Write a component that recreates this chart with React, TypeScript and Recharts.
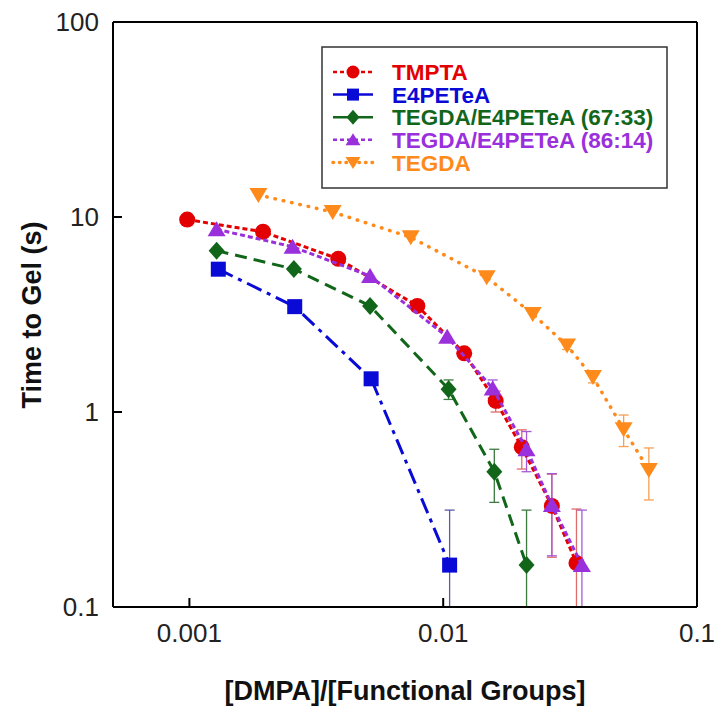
import { ScatterChart, Scatter, XAxis, YAxis, ErrorBar, Label } from 'recharts';

// Gel time vs photoinitiator ratio
const TMPTA_X = [0.00098, 0.00195, 0.00386, 0.00791, 0.0121, 0.0161, 0.0204, 0.0268, 0.0335];
const TMPTA_Y = [9.7, 8.4, 6.1, 3.5, 2.0, 1.14, 0.66, 0.33, 0.168];
const TMPTA_ERR = [0, 0, 0, 0, 0, 0.14, 0.15, 0.15, 0.15];

const E4PETEA_X = [0.0013, 0.0026, 0.0052, 0.0106];
const E4PETEA_Y = [5.4, 3.47, 1.48, 0.164];
const E4PETEA_ERR = [0, 0, 0.08, 0.15];

const MIX67_X = [0.00128, 0.00258, 0.00515, 0.0105, 0.0159, 0.0213];
const MIX67_Y = [6.72, 5.41, 3.5, 1.31, 0.494, 0.164];
const MIX67_ERR = [0, 0, 0.1, 0.15, 0.15, 0.15];

const MIX86_X = [0.00128, 0.00255, 0.00515, 0.01037, 0.01567, 0.0213, 0.0268, 0.0352];
const MIX86_Y = [8.65, 7.04, 4.98, 2.43, 1.32, 0.644, 0.333, 0.164];
const MIX86_ERR = [0, 0, 0, 0, 0.14, 0.15, 0.15, 0.15];

const TEGDA_X = [0.00187, 0.00367, 0.00745, 0.01484, 0.02253, 0.03077, 0.0389, 0.0514, 0.0646];
const TEGDA_Y = [12.97, 10.6, 7.87, 4.91, 3.18, 2.19, 1.51, 0.815, 0.504];
const TEGDA_ERR = [0, 0, 0, 0, 0, 0.1, 0.1, 0.15, 0.15];

const X_DOMAIN = [0.0005, 0.1];
const Y_DOMAIN = [0.1, 100];
const X_TICKS = [0.001, 0.01, 0.1];
const Y_TICKS = [0.1, 1, 10, 100];

const FONT = '"Liberation Sans", Arial, Helvetica, sans-serif';

// chart frame (page px); the error bars get clipped to it
const MARGIN = { top: 22, right: 20, bottom: 51, left: 33 };
const Y_AXIS_W = 80;
const X_AXIS_H = 50;
const PLOT = {
  x: MARGIN.left + Y_AXIS_W,
  y: MARGIN.top,
  w: 717 - MARGIN.left - Y_AXIS_W - MARGIN.right,
  h: 708 - MARGIN.top - MARGIN.bottom - X_AXIS_H,
};

type Point = { x: number; y: number; err: number };
type MarkerKind = 'circle' | 'square' | 'diamond' | 'up' | 'down';

function toPoints(xs: number[], ys: number[], errs: number[]): Point[] {
  return xs.map((x, i) => ({ x, y: ys[i], err: errs[i] }));
}

type SeriesDef = {
  name: string;
  color: string;
  errColor: string;
  marker: MarkerKind;
  dash: string;
  legendDash: string;
  lineWidth: number;
  cap?: 'round' | 'butt';
  data: Point[];
};

// drawing order: back to front
const SERIES: SeriesDef[] = [
  {
    name: 'TEGDA',
    color: '#ff8a1c',
    errColor: '#f5a050',
    marker: 'down',
    dash: '0.5 8',
    legendDash: '0.5 6',
    lineWidth: 3.5,
    cap: 'round',
    data: toPoints(TEGDA_X, TEGDA_Y, TEGDA_ERR),
  },
  {
    name: 'E4PETeA',
    color: '#0a0ad6',
    errColor: '#5a5aae',
    marker: 'square',
    dash: '16 6 4 6',
    legendDash: '',
    lineWidth: 3,
    data: toPoints(E4PETEA_X, E4PETEA_Y, E4PETEA_ERR),
  },
  {
    name: 'TEGDA/E4PETeA (67:33)',
    color: '#11661a',
    errColor: '#3c7a40',
    marker: 'diamond',
    dash: '12 7',
    legendDash: '',
    lineWidth: 3,
    data: toPoints(MIX67_X, MIX67_Y, MIX67_ERR),
  },
  {
    name: 'TMPTA',
    color: '#e30000',
    errColor: '#e06a6a',
    marker: 'circle',
    dash: '5 3',
    legendDash: '4 3',
    lineWidth: 3,
    data: toPoints(TMPTA_X, TMPTA_Y, TMPTA_ERR),
  },
  {
    name: 'TEGDA/E4PETeA (86:14)',
    color: '#9a2fdc',
    errColor: '#a45ad6',
    marker: 'up',
    dash: '5 3',
    legendDash: '4 3',
    lineWidth: 3,
    data: toPoints(MIX86_X, MIX86_Y, MIX86_ERR),
  },
];

const LEGEND_ORDER = [
  'TMPTA',
  'E4PETeA',
  'TEGDA/E4PETeA (67:33)',
  'TEGDA/E4PETeA (86:14)',
  'TEGDA',
];

function MarkerShape({ cx, cy, kind, color, size }: { cx?: number; cy?: number; kind: MarkerKind; color: string; size: number }) {
  if (cx == null || cy == null) return null;
  const h = size / 2;
  switch (kind) {
    case 'circle':
      return <circle cx={cx} cy={cy} r={h} fill={color} />;
    case 'square':
      return <rect x={cx - h + 0.5} y={cy - h + 0.5} width={size - 1} height={size - 1} fill={color} />;
    case 'diamond':
      return <polygon points={`${cx},${cy - h - 1} ${cx + h},${cy} ${cx},${cy + h + 1} ${cx - h},${cy}`} fill={color} />;
    case 'up':
      return <polygon points={`${cx},${cy - h} ${cx + h + 1},${cy + h - 1} ${cx - h - 1},${cy + h - 1}`} fill={color} />;
    case 'down':
      return <polygon points={`${cx - h - 1},${cy - h + 1} ${cx + h + 1},${cy - h + 1} ${cx},${cy + h}`} fill={color} />;
  }
  return null;
}

const X_TICK_GAP = 16;
const Y_TICK_GAP = 14;

function BottomTick(props: any) {
  const { x, y, payload } = props;
  const v = payload.value as number;
  const axisY = y - X_TICK_GAP;
  const inner = v > X_DOMAIN[0] && v < X_DOMAIN[1];
  return (
    <g>
      {inner && <line x1={x} x2={x} y1={axisY} y2={axisY - 9} stroke="#000" strokeWidth={2} />}
      <text x={x} y={y} dy="0.72em" textAnchor="middle" fontSize={26} fontFamily={FONT} fill="#222">
        {String(v)}
      </text>
    </g>
  );
}

function LeftTick(props: any) {
  const { x, y, payload } = props;
  const v = payload.value as number;
  const axisX = x + Y_TICK_GAP;
  const inner = v > Y_DOMAIN[0] && v < Y_DOMAIN[1];
  return (
    <g>
      {inner && <line x1={axisX} x2={axisX + 9} y1={y} y2={y} stroke="#000" strokeWidth={2} />}
      <text x={x} y={y} dy="0.36em" textAnchor="end" fontSize={26} fontFamily={FONT} fill="#222">
        {String(v)}
      </text>
    </g>
  );
}

function LegendBox() {
  const rows = LEGEND_ORDER.map((n) => SERIES.find((s) => s.name === n)!);
  return (
    <svg
      width={348}
      height={144}
      style={{ position: 'absolute', left: 321, top: 46 }}
    >
      <rect x={1} y={1} width={345} height={141} fill="#fff" stroke="#333" strokeWidth={1.5} />
      {rows.map((s, i) => {
        const cy = 26 + i * 22.6;
        return (
          <g key={s.name}>
            <line
              x1={12}
              x2={52}
              y1={cy}
              y2={cy}
              stroke={s.color}
              strokeWidth={s.cap === 'round' ? 3.5 : 2.5}
              strokeDasharray={s.legendDash || undefined}
              strokeLinecap={s.cap ?? 'butt'}
            />
            <MarkerShape cx={32} cy={cy} kind={s.marker} color={s.color} size={13} />
            <text x={71} y={cy} dy="0.36em" fontSize={22.5} fontWeight="bold" fontFamily={FONT} fill={s.color}>
              {s.name}
            </text>
          </g>
        );
      })}
    </svg>
  );
}

export default function App() {
  return (
    <div style={{ position: 'absolute', left: 0, top: 0, width: 717, height: 708, background: '#fff' }}>
      <svg width={0} height={0} style={{ position: 'absolute' }}>
        <defs>
          <clipPath id="plot-clip">
            <rect x={PLOT.x} y={PLOT.y} width={PLOT.w} height={PLOT.h} />
          </clipPath>
        </defs>
      </svg>
      <ScatterChart width={717} height={708} margin={MARGIN}>
        <XAxis
          xAxisId="main"
          dataKey="x"
          type="number"
          scale="log"
          domain={X_DOMAIN}
          allowDataOverflow
          ticks={X_TICKS}
          height={X_AXIS_H}
          tickSize={0}
          tickMargin={X_TICK_GAP}
          tickLine={false}
          tick={<BottomTick />}
          axisLine={{ stroke: '#000', strokeWidth: 2 }}
        >
          <Label
            content={() => (
              <text x={405} y={690} dy="0.36em" textAnchor="middle" fontSize={27} fontWeight="bold" fontFamily={FONT} fill="#111">
                [DMPA]/[Functional Groups]
              </text>
            )}
          />
        </XAxis>
        <XAxis
          xAxisId="top"
          orientation="top"
          type="number"
          scale="log"
          domain={X_DOMAIN}
          allowDataOverflow
          ticks={[0.001, 0.01]}
          mirror
          tick={false}
          tickSize={9}
          tickLine={{ stroke: '#000', strokeWidth: 2 }}
          axisLine={{ stroke: '#000', strokeWidth: 2 }}
        />
        <YAxis
          yAxisId="main"
          dataKey="y"
          type="number"
          scale="log"
          domain={Y_DOMAIN}
          allowDataOverflow
          ticks={Y_TICKS}
          width={Y_AXIS_W}
          tickSize={0}
          tickMargin={Y_TICK_GAP}
          tickLine={false}
          tick={<LeftTick />}
          axisLine={{ stroke: '#000', strokeWidth: 2 }}
        >
          <Label
            content={() => (
              <text
                transform="translate(31,315) rotate(-90)"
                dy="0.36em"
                textAnchor="middle"
                fontSize={27}
                fontWeight="bold"
                fontFamily={FONT}
                fill="#111"
              >
                Time to Gel (s)
              </text>
            )}
          />
        </YAxis>
        <YAxis
          yAxisId="right"
          orientation="right"
          type="number"
          scale="log"
          domain={Y_DOMAIN}
          allowDataOverflow
          ticks={[1, 10]}
          mirror
          tick={false}
          tickSize={9}
          tickLine={{ stroke: '#000', strokeWidth: 2 }}
          axisLine={{ stroke: '#000', strokeWidth: 2 }}
        />
        {SERIES.map((s) => (
          <Scatter
            key={s.name}
            name={s.name}
            data={s.data}
            xAxisId="main"
            yAxisId="main"
            fill={s.color}
            isAnimationActive={false}
            line={{
              stroke: s.color,
              strokeWidth: s.lineWidth,
              strokeDasharray: s.dash,
              strokeLinecap: s.cap ?? 'butt',
            }}
            lineType="joint"
            shape={(p: any) => <MarkerShape cx={p.cx} cy={p.cy} kind={s.marker} color={s.color} size={16} />}
          >
            <ErrorBar
              dataKey="err"
              direction="y"
              width={5}
              stroke={s.errColor}
              strokeWidth={1.3}
              clipPath="url(#plot-clip)"
            />
          </Scatter>
        ))}
      </ScatterChart>
      <LegendBox />
    </div>
  );
}
